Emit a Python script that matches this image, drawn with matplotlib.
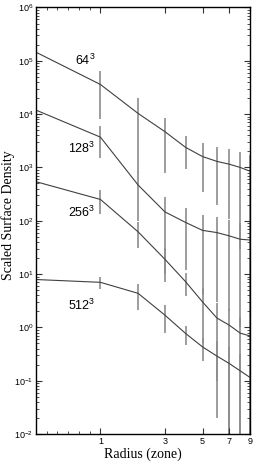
import numpy as np
import matplotlib
matplotlib.use('Agg')
import matplotlib.pyplot as plt
from matplotlib.ticker import FixedLocator, LogLocator, NullFormatter

plt.rcParams['font.family'] = ['Liberation Sans', 'DejaVu Sans']
plt.rcParams['mathtext.fontset'] = 'custom'
plt.rcParams['mathtext.rm'] = 'Liberation Sans'

radius = np.arange(0, 10)
labels = ['64', '128', '256', '512']

dens_64 = [1.45e5, 3.6e4, 1.03e4, 4.7e3, 2.38e3, 1.6e3, 1.3e3, 1.15e3, 1.0e3, 8.5e2]
dens_128 = [1.19e4, 3.7e3, 468, 147, 93, 66, 60, 52, 45, 43.5]
dens_256 = [540, 251, 62, 19, 7.2, 3.0, 1.5, 1.1, 0.78, 0.69]
dens_512 = [7.9, 7.0, 4.35, 1.7, 0.77, 0.43, 0.29, 0.21, 0.153, 0.115]

# one sigma at radius 1..9
err_64 = [2.8e4, 9.5e3, 3.9e3, 1.45e3, 1.25e3, 1.1e3, 1.04e3, 0.97e3, 0.85e3]
err_128 = [2.2e3, 371, 137, 81, 62, 57, 50, 44, 42]
err_256 = [120, 31, 12, 3.4, 2.5, 1.4, 1.1, 0.8, 0.7]
err_512 = [1.85, 2.2, 0.9, 0.31, 0.2, 0.27, 0.22, 0.16, 0.12]

series = [dens_64, dens_128, dens_256, dens_512]
errors = [err_64, err_128, err_256, err_512]

fig = plt.figure(figsize=(2.54, 4.63), dpi=100)
ax = fig.add_axes([36 / 254, 29 / 463, 214 / 254, 426.5 / 463])

ax.set_xscale('function', functions=(lambda x: np.log10(np.maximum(x + 1, 1e-9)),
                                     lambda y: 10 ** y - 1))
ax.set_yscale('log')

for d, e in zip(series, errors):
    d = np.array(d)
    e = np.array(e)
    lo = np.minimum(e, d[1:] - 1e-6)
    ax.errorbar(radius[1:], d[1:], yerr=[lo, e], fmt='none', ecolor='#8c8c8c',
                elinewidth=1.2, capsize=0, zorder=1)
    ax.plot(radius, d, color='#404040', lw=0.8, zorder=2)

ax.set_xlim(0, 9)
ax.set_ylim(1e-2, 1e6)

ax.xaxis.set_major_locator(FixedLocator([1, 3, 5, 7, 9]))
ax.xaxis.set_minor_locator(FixedLocator(10 ** np.array([0.05, 0.1, 0.15, 0.2, 0.25]) - 1))
ax.set_xticklabels(['1', '3', '5', '7', '9'])
ax.yaxis.set_major_locator(LogLocator(base=10, numticks=20))
ax.yaxis.set_minor_locator(LogLocator(base=10, subs=np.arange(2, 10), numticks=20))
ax.yaxis.set_minor_formatter(NullFormatter())

ax.tick_params(which='both', direction='in', top=True, right=True, labelsize=6.5,
               color='#333333', pad=2)
ax.tick_params(which='major', length=4, width=0.8)
ax.tick_params(which='minor', length=2, width=0.6)
for s in ax.spines.values():
    s.set_linewidth(1.0)

ax.set_xlabel('Radius (zone)', family='Liberation Serif', fontsize=10, labelpad=1)
fig.text(8 / 254, 1 - 215 / 463, 'Scaled Surface Density', family='Liberation Serif',
         fontsize=10, rotation=90, ha='center', va='center')

label_pos = [(0.182, 0.865), (0.15, 0.659), (0.15, 0.509), (0.15, 0.291)]
for lab, (px, py) in zip(labels, label_pos):
    ax.text(px, py, r'$\mathregular{' + lab + '^3}$', transform=ax.transAxes,
            fontsize=9, ha='left', va='baseline')

fig.savefig('out.png', dpi=100)
